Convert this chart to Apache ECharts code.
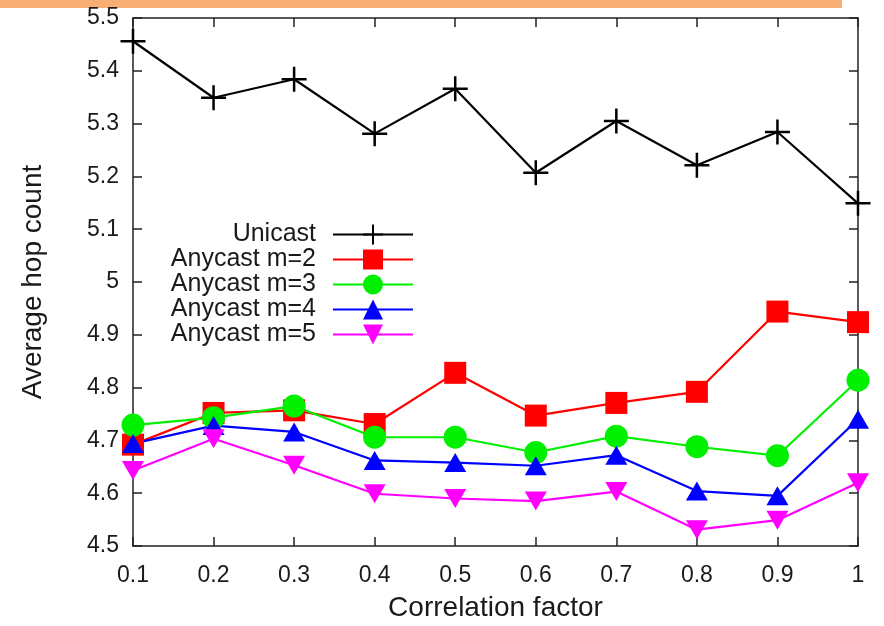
<!DOCTYPE html>
<html>
<head>
<meta charset="utf-8">
<script src="https://cdn.jsdelivr.net/npm/echarts@6/dist/echarts.min.js"></script>
<style>
html,body{margin:0;padding:0;background:#fff;}
#chart{width:884px;height:626px;}
</style>
</head>
<body>
<div id="chart"></div>
<script>
var categories = ['0.1','0.2','0.3','0.4','0.5','0.6','0.7','0.8','0.9','1'];
var unicast  = [5.456, 5.349, 5.384, 5.281, 5.366, 5.207, 5.305, 5.221, 5.284, 5.149];
var anycast2 = [4.692, 4.752, 4.757, 4.731, 4.828, 4.747, 4.771, 4.792, 4.944, 4.924];
var anycast3 = [4.729, 4.743, 4.765, 4.706, 4.706, 4.677, 4.708, 4.688, 4.671, 4.814];
var anycast4 = [4.694, 4.728, 4.716, 4.662, 4.658, 4.652, 4.672, 4.604, 4.595, 4.740];
var anycast5 = [4.643, 4.703, 4.653, 4.599, 4.590, 4.585, 4.603, 4.531, 4.549, 4.620];
var seriesNames = ['Unicast','Anycast m=2','Anycast m=3','Anycast m=4','Anycast m=5'];
var yMin = 4.5, yMax = 5.5, yStep = 0.1;

var FONT = 'Liberation Sans, Arial, Helvetica, sans-serif';
var plusPath = 'path://M9,0H11V9H20V11H11V20H9V11H0V9H9Z';
var downTri = 'path://M0,0L20,0L10,17Z';

function mkSeries(name, data, color, symbol, size) {
  return {
    name: name, type: 'line', data: data,
    symbol: symbol, symbolSize: size,
    lineStyle: {color: color, width: 2.2},
    itemStyle: {color: color, borderWidth: 0},
    showAllSymbol: true,
    animation: false,
    xAxisIndex: 0, yAxisIndex: 0
  };
}

var chart = echarts.init(document.getElementById('chart'), null, {renderer: 'canvas'});
var axisLineStyle = {color: '#222', width: 1.5};
chart.setOption({
  backgroundColor: '#fff',
  animation: false,
  graphic: [{
    type: 'rect', left: 0, top: 0,
    shape: {width: 842, height: 8},
    style: {fill: '#F9AF74'}, silent: true
  }],
  grid: {left: 133, top: 18, right: 26, bottom: 80, containLabel: false, outerBoundsMode: 'none'},
  legend: {
    data: seriesNames,
    orient: 'vertical',
    align: 'right',
    right: 465,
    top: 217,
    itemWidth: 80,
    itemHeight: 25,
    itemGap: 0,
    textStyle: {fontFamily: FONT, fontSize: 25, color: '#1a1a1a', lineHeight: 25, padding: [0, 12, 0, 0]},
    selectedMode: false
  },
  xAxis: [{
    type: 'category', data: categories, boundaryGap: false, position: 'bottom',
    axisLine: {show: true, lineStyle: axisLineStyle},
    axisTick: {show: true, inside: true, length: 9, lineStyle: axisLineStyle},
    axisLabel: {fontFamily: FONT, fontSize: 23, color: '#1a1a1a', margin: 18, interval: 0},
    splitLine: {show: false},
    name: 'Correlation factor', nameLocation: 'middle', nameGap: 48,
    nameTextStyle: {fontFamily: FONT, fontSize: 28, color: '#1a1a1a'}
  }, {
    type: 'category', data: categories, boundaryGap: false, position: 'top',
    axisLine: {show: true, lineStyle: axisLineStyle},
    axisTick: {show: true, inside: true, length: 9, lineStyle: axisLineStyle},
    axisLabel: {show: false}, splitLine: {show: false}
  }],
  yAxis: [{
    type: 'value', min: yMin, max: yMax, interval: yStep, position: 'left',
    axisLine: {show: true, lineStyle: axisLineStyle},
    axisTick: {show: true, inside: true, length: 9, lineStyle: axisLineStyle},
    axisLabel: {fontFamily: FONT, fontSize: 23, color: '#1a1a1a', margin: 14},
    splitLine: {show: false},
    name: 'Average hop count', nameLocation: 'middle', nameGap: 86, nameRotate: 90,
    nameTextStyle: {fontFamily: FONT, fontSize: 28, color: '#1a1a1a'}
  }, {
    type: 'value', min: yMin, max: yMax, interval: yStep, position: 'right',
    axisLine: {show: true, lineStyle: axisLineStyle},
    axisTick: {show: true, inside: true, length: 9, lineStyle: axisLineStyle},
    axisLabel: {show: false}, splitLine: {show: false}
  }],
  series: [
    mkSeries(seriesNames[0], unicast, '#000000', plusPath, 25),
    mkSeries(seriesNames[1], anycast2, '#ff0000', 'rect', 22),
    mkSeries(seriesNames[2], anycast3, '#00f000', 'circle', 23),
    mkSeries(seriesNames[3], anycast4, '#0000ff', 'triangle', [22, 19]),
    mkSeries(seriesNames[4], anycast5, '#ff00ff', downTri, [22, 19])
  ]
});
</script>
</body>
</html>
